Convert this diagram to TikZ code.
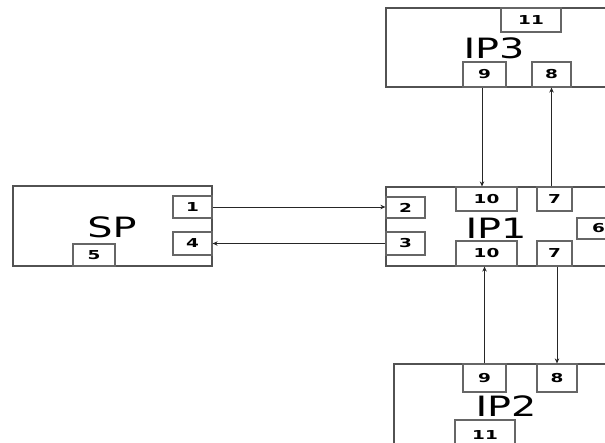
\documentclass[tikz,border=0pt]{standalone}
\usepackage{fontspec}
\setmainfont{DejaVu Sans}
\newfontfamily\widefont[FakeStretch=1.42]{DejaVu Sans}
\newfontfamily\widebold[FakeStretch=1.5]{DejaVu Sans Bold}
\usetikzlibrary{arrows.meta}
\begin{document}
\begin{tikzpicture}[x=1pt,y=-1pt,
  outer/.style={draw=black!68, line width=1.2pt},
  port/.style={draw=black!60, line width=1.2pt, inner sep=0pt, font=\widebold\fontsize{12.3}{12.3}\selectfont},
  big/.style={inner sep=0pt, font=\widefont\fontsize{28}{28}\selectfont},
  conn/.style={draw=black!85, line width=0.9pt, -{Stealth[length=5pt,width=4.5pt]}}
]
\useasboundingbox (0,0) rectangle (605,442);
\clip (0,0) rectangle (605,442);
% outer boxes
\draw[outer] (386,8) rectangle (660,87);
\draw[outer] (13,186) rectangle (212,266);
\draw[outer] (386,187) rectangle (660,266);
\draw[outer] (394,364) rectangle (660,480);
% titles
\node[big] (tip3) at (494,48) {IP3};
\node[big] (tsp) at (112,227) {SP};
\node[big] (tip1) at (496,228) {IP1};
\node[big] (tip2) at (506,406) {IP2};
% IP3 ports
\node[port, minimum width=60pt, minimum height=24pt] (a11) at (531,20) {11};
\node[port, minimum width=43pt, minimum height=25pt] (a9) at (484.5,74.5) {9};
\node[port, minimum width=39pt, minimum height=25pt] (a8) at (551.5,74.5) {8};
% SP ports
\node[port, minimum width=39pt, minimum height=22pt] (s1) at (192.5,207) {1};
\node[port, minimum width=39pt, minimum height=23pt] (s4) at (192.5,243.5) {4};
\node[port, minimum width=42pt, minimum height=22pt] (s5) at (94,255) {5};
% IP1 ports
\node[port, minimum width=39pt, minimum height=21pt] (b2) at (405.5,207.5) {2};
\node[port, minimum width=39pt, minimum height=23pt] (b3) at (405.5,243.5) {3};
\node[port, minimum width=61pt, minimum height=24pt] (b10t) at (486.5,199) {10};
\node[port, minimum width=35pt, minimum height=24pt] (b7t) at (554.5,199) {7};
\node[port, minimum width=43pt, minimum height=21pt] (b6) at (598.5,228.5) {6};
\node[port, minimum width=61pt, minimum height=25pt] (b10b) at (486.5,253.5) {10};
\node[port, minimum width=35pt, minimum height=25pt] (b7b) at (554.5,253.5) {7};
% IP2 ports
\node[port, minimum width=43pt, minimum height=28pt] (c9) at (484.5,378) {9};
\node[port, minimum width=40pt, minimum height=28pt] (c8) at (557,378) {8};
\node[port, minimum width=60pt, minimum height=30pt] (c11) at (485,435) {11};
% connectors
\draw[conn] (s1.east) -- (s1.east -| b2.west);
\draw[conn] (b3.west) -- (s4.east);
\draw[conn] ([xshift=-2.5pt]a9.south) -- ([xshift=-2.5pt]a9.south |- b10t.north);
\draw[conn] (a8.south |- b7t.north) -- (a8.south);
\draw[conn] (c9.north) -- (c9.north |- b10b.south);
\draw[conn] (c8.north |- b7b.south) -- (c8.north);
\end{tikzpicture}
\end{document}
